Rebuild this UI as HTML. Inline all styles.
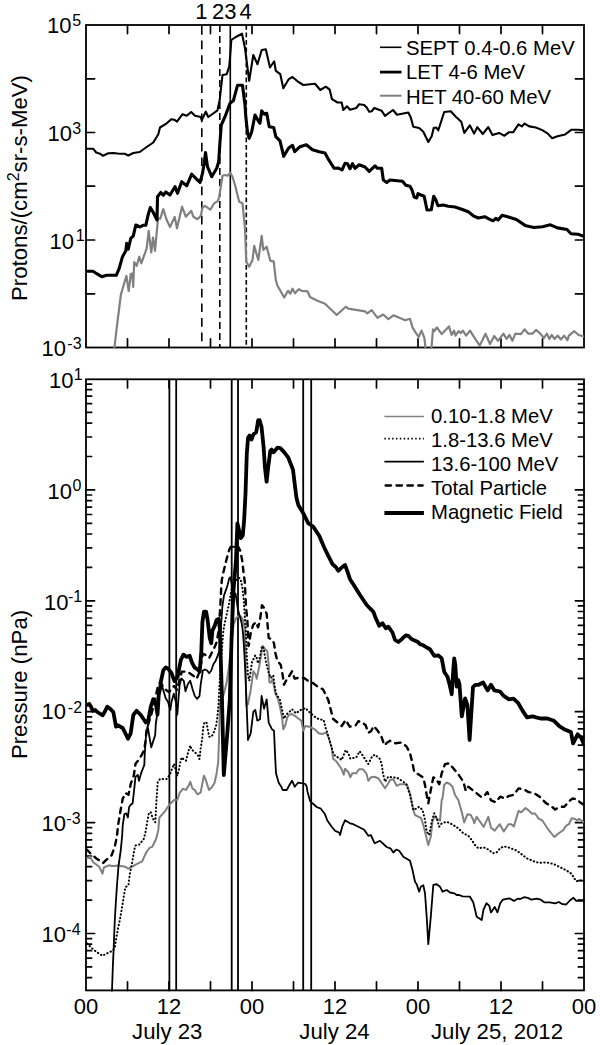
<!DOCTYPE html>
<html><head><meta charset="utf-8"><style>html,body{margin:0;padding:0;background:#fff;}svg{display:block}text{font-family:"Liberation Sans",sans-serif}</style></head>
<body><svg width="600" height="1045" viewBox="0 0 600 1045">
<rect x="86" y="25" width="498" height="322.5" fill="none" stroke="#000" stroke-width="1.8"/>
<rect x="86" y="379.3" width="498" height="611.0999999999999" fill="none" stroke="#000" stroke-width="1.8"/>
<path d="M127.5 25v8.6M127.5 347.5v-8.6M127.5 379.3v8.6M127.5 990.4v-8.6M169.0 25v8.6M169.0 347.5v-8.6M169.0 379.3v8.6M169.0 990.4v-8.6M210.5 25v8.6M210.5 347.5v-8.6M210.5 379.3v8.6M210.5 990.4v-8.6M252.0 25v8.6M252.0 347.5v-8.6M252.0 379.3v8.6M252.0 990.4v-8.6M293.5 25v8.6M293.5 347.5v-8.6M293.5 379.3v8.6M293.5 990.4v-8.6M335.0 25v8.6M335.0 347.5v-8.6M335.0 379.3v8.6M335.0 990.4v-8.6M376.5 25v8.6M376.5 347.5v-8.6M376.5 379.3v8.6M376.5 990.4v-8.6M418.0 25v8.6M418.0 347.5v-8.6M418.0 379.3v8.6M418.0 990.4v-8.6M459.5 25v8.6M459.5 347.5v-8.6M459.5 379.3v8.6M459.5 990.4v-8.6M501.0 25v8.6M501.0 347.5v-8.6M501.0 379.3v8.6M501.0 990.4v-8.6M542.5 25v8.6M542.5 347.5v-8.6M542.5 379.3v8.6M542.5 990.4v-8.6M86 78.8h8.6M584 78.8h-8.6M86 132.5h8.6M584 132.5h-8.6M86 186.2h8.6M584 186.2h-8.6M86 240.0h8.6M584 240.0h-8.6M86 293.8h8.6M584 293.8h-8.6M86 977.6h5.6M584 977.6h-5.6M86 966.9h5.6M584 966.9h-5.6M86 958.1h5.6M584 958.1h-5.6M86 950.7h5.6M584 950.7h-5.6M86 944.2h5.6M584 944.2h-5.6M86 938.6h5.6M584 938.6h-5.6M86 933.5h8.6M584 933.5h-8.6M86 900.1h5.6M584 900.1h-5.6M86 880.6h5.6M584 880.6h-5.6M86 866.7h5.6M584 866.7h-5.6M86 856.0h5.6M584 856.0h-5.6M86 847.2h5.6M584 847.2h-5.6M86 839.8h5.6M584 839.8h-5.6M86 833.3h5.6M584 833.3h-5.6M86 827.7h5.6M584 827.7h-5.6M86 822.6h8.6M584 822.6h-8.6M86 789.2h5.6M584 789.2h-5.6M86 769.7h5.6M584 769.7h-5.6M86 755.8h5.6M584 755.8h-5.6M86 745.1h5.6M584 745.1h-5.6M86 736.3h5.6M584 736.3h-5.6M86 728.9h5.6M584 728.9h-5.6M86 722.4h5.6M584 722.4h-5.6M86 716.8h5.6M584 716.8h-5.6M86 711.7h8.6M584 711.7h-8.6M86 678.3h5.6M584 678.3h-5.6M86 658.8h5.6M584 658.8h-5.6M86 644.9h5.6M584 644.9h-5.6M86 634.2h5.6M584 634.2h-5.6M86 625.4h5.6M584 625.4h-5.6M86 618.0h5.6M584 618.0h-5.6M86 611.5h5.6M584 611.5h-5.6M86 605.9h5.6M584 605.9h-5.6M86 600.8h8.6M584 600.8h-8.6M86 567.4h5.6M584 567.4h-5.6M86 547.9h5.6M584 547.9h-5.6M86 534.0h5.6M584 534.0h-5.6M86 523.3h5.6M584 523.3h-5.6M86 514.5h5.6M584 514.5h-5.6M86 507.1h5.6M584 507.1h-5.6M86 500.6h5.6M584 500.6h-5.6M86 495.0h5.6M584 495.0h-5.6M86 489.9h8.6M584 489.9h-8.6M86 456.5h5.6M584 456.5h-5.6M86 437.0h5.6M584 437.0h-5.6M86 423.1h5.6M584 423.1h-5.6M86 412.4h5.6M584 412.4h-5.6M86 403.6h5.6M584 403.6h-5.6M86 396.2h5.6M584 396.2h-5.6M86 389.7h5.6M584 389.7h-5.6M86 384.1h5.6M584 384.1h-5.6" stroke="#000" stroke-width="1.7" fill="none" stroke-linecap="round"/>
<text x="71.4" y="32.6" text-anchor="end" font-size="22" font-family="Liberation Sans, sans-serif">10</text><text x="72.3" y="26.4" font-size="16" font-family="Liberation Sans, sans-serif">5</text>
<text x="71.9" y="141.3" text-anchor="end" font-size="22" font-family="Liberation Sans, sans-serif">10</text><text x="72.3" y="133.9" font-size="16" font-family="Liberation Sans, sans-serif">3</text>
<text x="73.9" y="248.8" text-anchor="end" font-size="22" font-family="Liberation Sans, sans-serif">10</text><text x="75.8" y="241.4" font-size="16" font-family="Liberation Sans, sans-serif">1</text>
<text x="65.9" y="356.3" text-anchor="end" font-size="22" font-family="Liberation Sans, sans-serif">10</text><text x="67.3" y="348.9" font-size="16" font-family="Liberation Sans, sans-serif">-3</text>
<text x="73.4" y="387.8" text-anchor="end" font-size="22" font-family="Liberation Sans, sans-serif">10</text><text x="73.8" y="380.4" font-size="16" font-family="Liberation Sans, sans-serif">1</text>
<text x="72" y="498.7" text-anchor="end" font-size="22" font-family="Liberation Sans, sans-serif">10</text><text x="72.5" y="491.3" font-size="16" font-family="Liberation Sans, sans-serif">0</text>
<text x="68.4" y="609.6" text-anchor="end" font-size="22" font-family="Liberation Sans, sans-serif">10</text><text x="68" y="602.2" font-size="16" font-family="Liberation Sans, sans-serif">-1</text>
<text x="65.9" y="719.3" text-anchor="end" font-size="22" font-family="Liberation Sans, sans-serif">10</text><text x="67.8" y="713.1" font-size="16" font-family="Liberation Sans, sans-serif">-2</text>
<text x="65.9" y="831.4" text-anchor="end" font-size="22" font-family="Liberation Sans, sans-serif">10</text><text x="66.3" y="824.0" font-size="16" font-family="Liberation Sans, sans-serif">-3</text>
<text x="65.9" y="941.7" text-anchor="end" font-size="22" font-family="Liberation Sans, sans-serif">10</text><text x="66.3" y="934.9" font-size="16" font-family="Liberation Sans, sans-serif">-4</text>
<text x="86.0" y="1014.4" text-anchor="middle" font-size="22" font-family="Liberation Sans, sans-serif">00</text>
<text x="169.0" y="1014.4" text-anchor="middle" font-size="22" font-family="Liberation Sans, sans-serif">12</text>
<text x="252.0" y="1014.4" text-anchor="middle" font-size="22" font-family="Liberation Sans, sans-serif">00</text>
<text x="335.0" y="1014.4" text-anchor="middle" font-size="22" font-family="Liberation Sans, sans-serif">12</text>
<text x="418.0" y="1014.4" text-anchor="middle" font-size="22" font-family="Liberation Sans, sans-serif">00</text>
<text x="501.0" y="1014.4" text-anchor="middle" font-size="22" font-family="Liberation Sans, sans-serif">12</text>
<text x="584.0" y="1014.4" text-anchor="middle" font-size="22" font-family="Liberation Sans, sans-serif">00</text>
<text x="167.2" y="1039.4" text-anchor="middle" font-size="22.2" font-family="Liberation Sans, sans-serif">July 23</text>
<text x="334.5" y="1039.4" text-anchor="middle" font-size="22.2" font-family="Liberation Sans, sans-serif">July 24</text>
<text x="497.0" y="1039.4" text-anchor="middle" font-size="22.2" font-family="Liberation Sans, sans-serif">July 25, 2012</text>
<text transform="translate(27,188) rotate(-90)" text-anchor="middle" font-size="22.2" font-family="Liberation Sans, sans-serif">Protons/(cm<tspan font-size="16" dy="-8">2</tspan><tspan dy="8">sr-s-MeV)</tspan></text>
<text transform="translate(27,684.5) rotate(-90)" text-anchor="middle" font-size="22.2" font-family="Liberation Sans, sans-serif">Pressure (nPa)</text>
<text x="201.3" y="19.3" text-anchor="middle" font-size="22" font-family="Liberation Sans, sans-serif">1</text>
<text x="218" y="19.3" text-anchor="middle" font-size="22" font-family="Liberation Sans, sans-serif">2</text>
<text x="230.3" y="19.3" text-anchor="middle" font-size="22" font-family="Liberation Sans, sans-serif">3</text>
<text x="245.5" y="19.3" text-anchor="middle" font-size="22" font-family="Liberation Sans, sans-serif">4</text>
<path d="M380 47.3H401.5" stroke="#000" stroke-width="1.6"/>
<text x="406" y="54.8" font-size="20.3" font-family="Liberation Sans, sans-serif">SEPT 0.4-0.6 MeV</text>
<path d="M380 72.1H401.5" stroke="#000" stroke-width="2.8"/>
<text x="406" y="79.3" font-size="20.3" font-family="Liberation Sans, sans-serif">LET 4-6 MeV</text>
<path d="M380 95.7H401.5" stroke="#808080" stroke-width="2.0"/>
<text x="406" y="103.7" font-size="20.3" font-family="Liberation Sans, sans-serif">HET 40-60 MeV</text>
<path d="M384.4 416.5H423.9" stroke="#808080" stroke-width="1.7"/>
<text x="431" y="423" font-size="20.3" font-family="Liberation Sans, sans-serif">0.10-1.8 MeV</text>
<path d="M384.4 438.7H423.9" stroke="#000" stroke-width="1.7" stroke-dasharray="1.5 2.35"/>
<text x="431" y="447" font-size="20.3" font-family="Liberation Sans, sans-serif">1.8-13.6 MeV</text>
<path d="M384.4 461.6H423.9" stroke="#000" stroke-width="1.9"/>
<text x="431" y="471" font-size="20.3" font-family="Liberation Sans, sans-serif">13.6-100 MeV</text>
<path d="M385.6 485.5H422.7" stroke="#000" stroke-width="2.3" stroke-dasharray="5.5 5.4" stroke-linecap="round"/>
<text x="431" y="494.6" font-size="20.3" font-family="Liberation Sans, sans-serif">Total Particle</text>
<path d="M384.4 513H423.9" stroke="#000" stroke-width="3.9"/>
<text x="431" y="518.5" font-size="20.3" font-family="Liberation Sans, sans-serif">Magnetic Field</text>
<path d="M201.8 25V347.5" stroke="#000" stroke-width="1.6" stroke-dasharray="8.7 5.9" stroke-dashoffset="-1"/>
<path d="M219.8 25V347.5" stroke="#000" stroke-width="1.6" stroke-dasharray="7 4"/>
<path d="M230.3 25V347.5" stroke="#000" stroke-width="1.6"/>
<path d="M246.3 25V347.5" stroke="#000" stroke-width="1.6" stroke-dasharray="4.8 2.7"/>
<path d="M169.4 379.3V990.4" stroke="#000" stroke-width="1.8"/>
<path d="M176.2 379.3V990.4" stroke="#000" stroke-width="1.8"/>
<path d="M231.7 379.3V990.4" stroke="#000" stroke-width="1.8"/>
<path d="M238 379.3V990.4" stroke="#000" stroke-width="1.8"/>
<path d="M303.2 379.3V990.4" stroke="#000" stroke-width="1.8"/>
<path d="M311.2 379.3V990.4" stroke="#000" stroke-width="1.8"/>
<defs><clipPath id="ct"><rect x="86" y="25" width="498" height="323.7"/></clipPath><clipPath id="cb"><rect x="86" y="379.3" width="498" height="612.3"/></clipPath></defs>
<path d="M113.9,352.0 117.4,322.5 120.9,294.5 123.3,286.3 126.4,275.8 128.7,291.0 130.8,274.0 132.2,273.5 133.2,286.9 134.2,262.0 136.7,265.8 139.2,256.7 141.3,263.3 146.7,248.3 148.7,230.8 151.3,252.5 153.0,237.5 155.0,250.8 158.0,218.3 160.3,218.7 163.3,209.2 166.7,220.0 170.0,227.0 174.7,217.0 177.0,228.3 182.0,206.7 185.8,216.7 191.3,210.8 193.3,216.7 197.5,219.2 200.8,215.8 202.5,207.5 205.0,205.8 210.3,209.7 214.2,203.3 218.0,200.8 219.2,196.7 222.5,175.8 225.0,175.0 227.5,175.8 230.3,172.8 232.5,176.7 235.0,185.0 237.5,195.0 239.2,201.7 242.5,203.3 245.0,228.3 246.3,261.7 249.2,266.7 252.5,260.0 254.2,245.8 258.3,260.0 261.7,235.8 263.3,250.0 266.7,246.7 270.3,260.8 273.7,261.3 275.8,280.0 277.5,285.8 284.2,297.5 288.0,290.8 290.3,293.7 292.5,288.7 295.0,293.3 298.7,289.2 301.7,290.8 307.5,291.3 310.0,297.0 317.5,300.8 325.0,303.7 336.7,315.0 345.8,306.7 348.3,308.7 365.0,311.3 367.3,313.4 371.7,310.1 377.5,317.8 383.2,314.5 388.4,319.1 393.4,315.3 405.3,320.3 410.0,318.8 412.5,327.4 415.2,331.8 418.7,337.0 421.5,330.6 424.4,337.9 426.3,356.0 430.8,356.0 433.0,329.3 434.4,331.2 436.9,327.4 441.7,334.1 449.0,326.4 451.6,335.0 454.1,330.6 455.5,335.6 458.5,331.2 460.8,333.1 462.8,330.6 466.2,335.6 470.0,330.6 475.2,338.9 479.8,345.6 485.5,333.7 490.0,344.1 494.2,336.0 498.0,340.8 503.4,333.7 506.6,338.9 509.5,335.0 512.4,340.8 515.3,333.7 521.0,334.1 524.5,329.3 528.3,333.7 532.5,333.7 536.0,329.9 539.2,332.6 544.0,337.9 546.9,333.7 549.4,338.9 551.7,335.0 554.5,338.9 557.8,335.6 560.9,339.5 564.1,335.6 567.4,340.2 568.9,335.6 574.3,331.2 578.5,335.0 584.3,336.4" stroke="#808080" stroke-width="2.2" fill="none" stroke-linejoin="round" clip-path="url(#ct)"/>
<path d="M86.0,148.8 93.3,148.8 96.2,152.5 100.0,153.7 103.0,155.8 108.3,153.3 113.3,153.0 119.2,153.8 124.7,153.8 128.3,155.5 133.3,153.0 139.7,152.0 146.7,147.0 153.3,142.5 158.3,134.2 160.0,127.5 166.7,123.3 171.3,119.2 174.2,119.7 177.0,121.7 182.5,114.2 186.7,115.8 191.2,112.0 195.0,115.8 200.8,117.0 201.7,120.3 205.8,111.7 208.3,117.0 217.5,110.3 219.7,100.0 222.5,75.0 226.7,74.2 229.2,66.7 230.0,58.3 231.3,40.0 235.8,37.0 242.0,33.7 245.0,48.3 249.2,80.8 253.3,55.0 257.5,64.2 261.7,50.0 265.8,49.2 270.0,67.5 271.7,65.0 274.2,61.3 275.8,70.8 280.3,74.2 283.3,88.3 288.7,79.2 292.5,77.0 297.5,81.3 303.3,85.0 315.0,83.7 320.3,90.0 325.8,86.7 329.7,89.7 332.0,99.2 337.5,102.5 341.7,102.5 343.3,110.0 347.0,106.3 350.0,109.7 356.3,108.0 359.2,104.2 364.2,105.0 366.7,107.5 369.2,111.7 371.7,111.3 374.2,108.0 381.7,110.8 385.0,115.8 393.0,110.0 397.0,114.7 408.3,112.5 410.8,117.5 413.3,126.7 419.2,128.0 423.3,131.7 428.3,142.0 431.7,136.3 433.7,128.0 436.3,127.5 438.3,130.3 444.2,112.0 450.8,111.3 455.8,116.7 461.3,121.7 464.3,132.9 469.8,125.3 474.1,133.6 477.3,127.1 482.8,134.0 488.2,127.1 492.5,135.1 499.0,132.9 504.4,135.7 508.8,132.3 513.1,132.3 518.5,124.3 521.8,126.4 524.6,123.6 529.3,126.4 535.8,127.5 542.3,130.1 547.8,133.6 552.1,138.3 557.5,136.2 565.1,134.4 571.6,129.7 578.1,129.7 584.0,130.3" stroke="#000" stroke-width="2.1" fill="none" stroke-linejoin="round" clip-path="url(#ct)"/>
<path d="M86.7,271.3 93.0,271.3 96.7,273.7 101.7,276.7 106.7,275.3 111.7,275.3 116.3,275.3 119.2,268.3 122.5,256.7 125.8,250.8 126.7,243.3 128.3,249.2 129.2,245.0 130.8,238.3 133.3,235.8 135.8,225.0 140.0,227.0 143.0,225.3 145.8,225.3 148.3,214.2 150.3,207.5 153.3,212.5 157.0,220.0 157.5,196.7 160.8,192.5 163.3,195.3 165.8,192.0 170.0,195.0 175.0,186.7 177.5,193.3 181.7,181.7 186.7,185.8 191.7,174.2 195.8,178.3 200.0,182.5 202.5,173.3 204.2,163.3 205.5,152.5 207.5,166.7 211.7,176.7 216.7,168.3 218.7,161.7 220.0,141.7 221.3,125.0 225.0,116.7 230.0,103.3 233.3,100.8 237.5,85.3 242.5,85.3 245.0,105.0 245.8,116.7 247.5,132.5 249.2,138.3 251.7,131.7 255.0,115.0 258.3,120.8 260.0,123.3 261.7,110.8 264.2,114.2 266.7,113.3 269.2,126.7 273.7,127.5 275.8,136.7 280.0,140.8 283.7,156.3 288.7,148.0 292.5,145.3 294.7,151.7 300.0,146.7 306.3,144.7 312.5,149.7 319.2,151.7 325.0,153.0 328.3,159.2 334.2,168.3 338.3,168.0 342.0,170.0 345.0,163.3 347.5,163.7 350.0,168.7 352.5,163.7 355.0,168.3 359.2,164.7 365.0,167.0 369.2,171.3 375.0,165.8 377.5,168.3 381.7,168.3 383.3,180.0 386.7,182.5 390.0,180.0 402.5,181.3 405.8,185.3 410.0,186.3 412.0,190.0 414.2,197.0 416.7,198.0 418.0,193.7 420.8,195.0 424.2,196.3 427.0,210.0 431.3,209.7 433.7,196.3 435.8,199.7 438.0,205.8 443.3,205.0 448.3,206.3 455.0,207.0 461.7,209.2 468.3,211.7 473.3,215.8 478.3,218.0 484.7,216.7 488.3,218.7 493.0,220.8 495.8,218.3 498.2,220.0 502.1,215.3 507.7,216.8 516.4,219.5 525.1,225.4 533.8,227.5 542.5,226.7 550.4,224.8 557.5,227.9 567.0,229.5 571.0,233.8 578.1,234.3 584.5,236.5" stroke="#000" stroke-width="3.1" fill="none" stroke-linejoin="round" clip-path="url(#ct)"/>
<path d="M86.3,858.4 90.1,856.8 93.2,862.2 99.3,866.8 102.4,873.7 103.9,867.5 109.3,865.2 111.6,866.0 114.7,866.0 117.7,865.6 125.4,866.8 128.4,868.6 133.0,866.0 137.6,863.7 142.2,861.4 143.8,857.6 146.8,851.5 149.9,847.6 152.2,846.9 154.5,842.3 156.0,839.2 158.3,830.3 159.4,817.5 164.7,811.7 169.3,804.7 174.0,800.0 177.3,800.0 179.5,793.2 182.8,788.8 186.0,789.9 188.7,785.6 190.3,781.8 192.5,788.8 194.7,789.9 197.4,794.3 200.6,792.6 203.9,775.8 205.5,779.1 207.7,786.0 209.0,790.0 212.0,787.0 214.5,783.0 216.5,774.0 218.2,762.0 219.0,740.0 219.6,715.0 220.2,700.0 221.5,700.0 223.7,694.5 226.5,683.1 228.7,668.7 231.0,648.0 233.5,625.0 236.1,618.2 238.6,615.7 241.0,616.4 242.9,619.5 244.8,628.2 245.5,660.0 246.3,706.0 248.0,704.0 250.7,690.0 253.3,671.3 255.3,674.0 256.7,678.7 259.3,666.0 261.3,654.0 262.7,646.0 264.7,648.7 267.3,651.3 268.7,664.7 269.3,682.0 270.7,682.7 272.7,679.3 275.3,693.3 278.0,699.3 280.0,706.7 282.0,717.3 283.3,729.3 285.3,725.3 287.3,717.3 289.3,714.7 292.0,714.0 296.0,716.7 301.3,720.7 303.3,730.7 305.3,726.0 309.3,726.7 314.7,729.3 318.7,733.3 321.7,734.0 326.3,732.7 329.0,738.7 331.7,748.0 333.0,758.7 336.3,761.3 339.0,765.3 341.7,769.3 343.7,774.7 345.0,768.7 348.3,772.0 350.3,777.3 352.3,773.3 356.3,773.3 359.0,769.3 363.0,769.3 366.3,773.3 368.3,780.8 371.0,777.3 374.2,776.7 378.3,778.3 381.7,783.3 385.0,788.3 388.3,783.3 390.0,780.0 393.3,779.2 396.7,785.8 400.0,784.2 406.7,784.2 410.0,793.3 413.3,810.0 415.0,815.0 418.3,816.7 421.0,818.0 423.3,825.0 425.8,835.0 428.3,845.0 430.8,836.7 432.5,821.7 434.2,816.7 436.7,818.3 440.0,820.8 441.7,800.0 442.5,798.3 444.2,785.0 446.7,782.5 450.0,784.2 452.5,786.7 455.0,795.0 458.3,800.0 461.7,811.7 464.2,822.5 467.5,814.2 470.8,815.0 473.3,820.0 474.2,823.3 476.7,816.7 480.0,821.7 483.7,826.9 488.3,816.8 491.0,827.8 494.7,830.6 499.8,824.2 503.8,831.5 508.4,824.2 511.2,824.2 513.9,826.4 518.5,811.0 521.3,812.3 525.5,808.0 528.6,810.4 531.7,813.5 535.0,813.5 538.7,818.7 542.3,820.5 547.8,828.8 554.3,837.0 558.8,833.3 563.4,830.0 566.2,825.6 568.9,824.2 571.7,818.3 574.4,818.7 577.2,820.5 579.0,818.7 584.0,822.5" stroke="#808080" stroke-width="2.0" fill="none" stroke-linejoin="round" clip-path="url(#cb)"/>
<path d="M87.1,943.4 91.7,948.0 96.3,951.8 102.4,955.7 107.0,953.4 112.0,951.0 114.6,948.4 116.4,937.6 118.3,926.9 119.8,920.2 121.8,908.7 124.7,890.8 125.4,887.2 128.5,885.3 128.8,881.5 129.8,874.2 130.5,870.5 132.0,863.5 133.2,856.0 134.5,849.0 135.5,845.5 139.2,844.6 143.7,839.1 145.4,832.7 147.2,822.2 148.9,812.8 150.7,812.3 153.0,818.7 155.3,822.2 156.5,800.0 157.7,782.5 160.0,779.0 166.5,779.1 169.8,774.8 171.9,769.3 174.1,763.9 177.3,775.8 179.0,769.3 180.6,760.7 181.7,757.4 183.3,759.0 186.0,760.7 188.2,752.0 190.3,745.5 191.4,749.3 194.7,752.0 197.9,755.3 199.5,759.0 200.6,748.8 202.3,737.9 203.3,727.1 204.4,722.2 206.6,722.8 207.7,729.3 209.3,736.8 211.5,736.8 214.2,731.4 216.3,724.9 217.4,716.3 218.5,705.4 219.2,690.0 220.8,664.2 222.4,643.2 223.4,630.5 224.5,624.2 228.6,605.8 231.5,590.0 236.0,580.0 239.5,578.0 241.0,581.0 242.3,587.1 243.5,597.1 244.2,607.0 244.8,617.0 246.0,631.9 246.7,654.0 248.0,675.3 249.3,680.7 252.0,662.0 254.0,658.0 255.3,655.3 256.7,658.0 258.0,663.3 260.0,656.7 262.0,646.0 263.5,648.0 266.0,662.0 268.5,672.0 270.7,678.0 273.3,675.3 274.7,686.0 276.0,693.3 280.0,700.0 282.0,709.3 284.0,718.7 286.0,714.7 288.7,712.7 292.0,709.3 296.0,713.3 300.7,710.0 305.3,708.0 309.3,712.0 314.7,716.7 319.0,719.3 323.7,720.0 325.7,728.0 328.3,736.0 331.0,745.3 333.7,754.7 337.7,757.3 341.7,760.0 345.7,750.0 348.3,753.3 350.3,758.7 356.3,757.3 359.7,751.3 363.0,756.0 368.3,764.0 372.3,756.0 375.0,754.7 379.7,758.7 381.7,764.0 383.0,773.3 385.0,781.7 388.3,776.7 392.3,777.3 396.7,777.5 403.3,781.7 406.7,785.0 410.0,795.0 413.3,810.0 416.7,808.3 419.2,806.7 422.5,810.0 425.0,820.0 426.7,831.7 429.2,835.0 431.7,821.7 434.2,813.3 436.7,818.3 439.2,826.7 441.7,823.3 446.7,821.7 453.3,825.0 458.3,828.3 463.3,833.3 468.3,835.8 471.7,840.0 475.0,845.0 478.3,848.3 483.3,847.5 485.5,848.0 489.2,850.1 492.8,853.2 496.5,852.5 500.2,848.3 503.8,846.4 509.3,847.7 516.7,850.6 522.2,854.7 526.8,858.3 533.2,861.1 538.7,862.9 546.0,862.4 549.7,862.9 555.2,864.8 560.7,867.5 566.2,870.3 571.7,873.9 574.4,878.5 576.3,881.3 579.9,880.3 584.0,881.3" stroke="#000" stroke-width="2.0" fill="none" stroke-linejoin="round" stroke-dasharray="0.4 3.2" stroke-linecap="round" clip-path="url(#cb)"/>
<path d="M111.8,996.0 112.9,965.0 113.6,950.1 114.2,935.0 114.8,920.0 116.0,900.0 117.0,885.0 118.5,866.0 120.8,850.0 122.2,835.0 122.7,825.7 124.4,814.0 126.2,813.4 127.9,817.5 129.1,807.0 130.8,804.7 132.6,803.5 134.3,788.3 135.5,776.7 137.8,774.9 139.0,780.8 141.3,772.6 144.3,765.0 144.8,753.3 146.0,735.8 147.6,726.0 151.2,747.4 155.2,735.0 155.8,724.0 157.5,712.3 159.3,692.5 161.6,684.3 163.3,690.2 165.7,698.3 168.0,701.8 170.3,710.0 171.5,701.8 173.8,693.7 176.2,703.0 177.3,714.7 178.5,698.3 179.7,684.3 181.4,678.5 183.8,680.8 185.5,691.3 187.8,684.3 190.2,680.8 192.5,689.0 194.8,696.0 197.2,698.9 199.5,696.0 200.7,684.3 202.9,670.5 205.0,669.5 207.1,670.5 209.2,673.2 211.3,670.5 213.4,664.2 215.5,661.1 217.6,655.8 219.2,651.6 222.4,606.3 223.9,595.8 225.0,592.6 227.4,585.9 229.2,578.4 230.5,577.2 233.6,594.6 235.5,593.4 236.7,600.8 237.9,609.5 240.4,618.2 241.7,623.2 242.9,631.9 243.8,644.0 245.2,668.7 246.6,704.6 248.0,740.0 250.7,733.3 253.3,712.0 255.3,710.0 257.3,720.7 260.0,719.3 261.6,696.0 264.0,708.7 266.7,699.3 268.7,722.7 272.0,729.3 274.0,730.7 275.3,760.0 276.0,773.3 278.7,782.7 281.3,786.7 282.7,790.0 286.7,790.0 289.3,785.3 292.0,780.7 294.7,786.7 298.0,782.7 302.7,783.3 305.3,784.0 306.7,786.7 307.5,791.7 310.0,800.8 312.5,803.3 316.7,807.0 320.8,808.7 324.7,813.7 327.5,820.8 331.7,826.7 335.0,830.8 339.2,832.5 340.0,835.0 342.5,825.8 345.0,820.3 350.0,823.3 353.3,824.2 358.3,826.7 364.2,829.7 368.3,835.8 370.8,835.0 374.7,843.3 380.0,840.8 386.7,847.0 390.8,848.7 393.3,852.5 395.8,850.0 396.7,849.7 399.2,850.8 403.3,856.7 406.7,858.7 410.0,860.8 412.5,870.0 415.0,881.7 416.7,884.2 419.2,891.7 420.8,886.7 423.3,885.3 425.0,893.3 426.7,916.7 428.3,944.2 430.8,916.7 433.3,885.0 436.7,884.2 440.0,886.7 442.5,891.7 446.7,890.0 450.0,892.5 454.2,893.3 456.7,895.0 459.2,895.0 462.5,896.3 470.0,896.7 473.3,902.5 476.7,916.7 481.7,920.0 483.5,909.7 486.4,903.3 489.2,905.6 491.0,912.4 494.7,906.9 497.4,912.4 500.2,903.3 502.9,899.6 509.3,898.3 513.9,900.9 517.6,898.7 520.3,899.0 524.0,897.2 527.7,897.8 531.3,899.6 536.8,898.7 540.5,899.6 544.2,902.3 549.7,902.3 555.2,903.3 558.8,902.0 562.5,904.2 566.2,904.5 569.8,900.5 573.5,897.8 576.3,900.9 579.9,900.5 584.0,900.9" stroke="#000" stroke-width="1.8" fill="none" stroke-linejoin="round" clip-path="url(#cb)"/>
<path d="M86.5,849.3 90.9,853.8 96.3,858.4 103.2,863.0 106.2,859.9 111.6,855.3 114.7,846.9 117.0,836.1 118.0,825.7 120.3,811.7 122.7,798.8 125.6,793.0 128.5,794.8 130.8,783.7 133.8,775.5 135.5,763.8 137.8,760.9 141.3,755.7 144.3,749.8 145.4,741.7 146.6,730.0 149.0,722.0 152.0,712.0 155.0,700.0 157.5,688.0 160.0,682.0 163.3,686.7 166.0,690.0 169.0,692.0 171.5,689.0 174.0,686.0 177.0,690.0 180.0,678.0 181.8,671.6 187.1,671.6 193.4,675.8 196.6,678.9 199.5,672.0 202.9,653.7 207.1,655.8 209.2,657.9 212.4,651.6 215.0,646.3 216.6,642.1 217.6,636.8 218.7,630.5 219.2,624.2 219.7,615.8 220.3,606.3 220.8,596.8 221.3,586.3 221.8,580.0 223.7,571.0 226.1,561.0 229.2,549.8 230.6,547.0 238.4,547.0 240.4,551.1 242.3,561.0 243.5,572.2 244.8,582.2 245.4,594.6 246.0,607.0 247.3,619.5 247.9,631.9 248.5,646.0 249.3,643.3 250.7,632.7 253.3,624.7 256.0,622.0 258.0,627.3 260.0,620.7 261.3,610.0 262.0,605.3 264.7,608.7 266.7,614.0 268.0,630.0 268.7,638.0 272.0,639.3 274.0,643.3 275.3,652.7 277.3,660.7 280.7,664.7 282.7,675.3 284.0,684.7 286.0,680.7 288.0,678.0 292.0,671.3 294.7,678.7 298.7,677.7 304.0,678.0 308.0,680.7 313.3,683.3 317.7,686.7 323.0,689.3 325.7,694.7 328.3,700.0 331.0,710.7 333.0,718.7 337.7,722.7 341.7,726.0 345.7,720.0 349.7,726.7 355.7,725.3 358.3,721.3 361.7,722.0 365.7,725.3 368.3,732.7 371.0,731.3 373.7,726.0 377.7,730.7 381.7,737.3 384.3,745.3 387.0,742.7 390.0,740.8 395.0,743.3 401.7,742.5 406.7,746.7 410.0,753.3 412.5,763.3 414.2,771.7 418.3,774.2 423.3,777.5 425.0,785.0 426.7,795.0 428.3,803.3 430.8,790.0 433.3,777.5 435.8,778.3 439.2,784.2 441.7,773.3 445.0,764.2 449.2,763.3 453.3,768.3 458.3,774.2 463.3,781.7 465.8,790.8 468.3,786.7 472.5,790.0 476.7,793.3 480.8,796.7 483.7,796.7 487.3,792.1 491.0,800.3 495.6,802.2 500.2,796.7 504.8,798.5 509.3,795.8 513.9,794.8 518.5,788.4 524.0,789.3 528.6,792.1 534.1,793.0 539.6,796.7 546.0,803.1 550.6,805.8 555.2,809.5 559.8,806.8 564.3,806.8 568.9,801.3 572.6,798.5 577.2,799.4 579.9,802.2 584.0,805.0" stroke="#000" stroke-width="2.4" fill="none" stroke-linejoin="round" stroke-dasharray="5.5 5.4" stroke-linecap="round" clip-path="url(#cb)"/>
<path d="M86.0,705.3 89.3,704.0 91.3,707.3 92.7,710.7 95.3,710.0 97.3,712.0 102.7,715.3 105.3,710.7 107.3,706.7 110.0,708.7 113.3,712.0 116.0,726.7 118.0,725.3 122.7,728.0 128.0,738.7 130.7,733.3 133.3,715.0 136.7,710.8 140.8,715.0 145.8,722.5 148.3,720.0 150.8,706.7 153.3,699.2 155.8,703.3 157.5,714.7 158.1,705.3 158.7,694.8 160.4,686.7 161.0,680.8 163.3,670.3 165.7,667.4 168.0,668.6 171.3,672.6 174.5,681.1 177.6,676.8 180.8,660.0 183.4,654.7 186.6,656.8 189.7,655.8 191.8,662.1 194.5,667.4 197.6,669.5 199.7,671.6 201.3,651.7 202.4,622.1 204.0,611.6 206.1,611.6 207.6,620.0 209.7,637.9 211.3,643.2 212.4,630.5 214.5,626.3 216.6,620.0 218.7,618.9 219.7,627.4 220.8,660.0 222.0,700.0 223.8,775.0 227.2,734.5 229.8,700.0 231.5,640.0 233.5,590.0 236.0,560.0 237.4,523.3 240.8,538.0 242.8,535.3 244.1,520.6 245.5,493.8 246.8,453.6 248.1,437.5 249.5,435.5 251.5,439.5 253.5,434.2 256.2,432.2 258.2,420.1 259.5,420.1 261.5,426.8 263.6,446.9 264.9,467.0 266.6,481.7 268.2,467.0 270.3,450.9 271.6,449.6 273.6,452.3 277.6,447.6 280.3,448.2 284.3,452.3 288.3,457.6 293.0,469.7 295.2,488.0 296.5,498.0 298.3,505.0 303.3,513.3 308.3,523.3 313.3,526.7 319.2,535.8 324.2,547.5 328.3,555.8 332.5,564.2 335.8,567.0 338.3,570.8 341.7,567.5 345.0,565.0 347.5,571.7 350.0,579.2 353.3,584.2 360.0,595.0 366.7,605.0 370.0,608.3 373.3,611.7 375.8,618.3 379.2,625.8 382.5,623.3 385.8,628.3 388.3,626.7 392.5,632.5 395.0,640.0 398.3,642.0 401.7,639.2 405.8,635.3 408.3,635.8 411.7,639.2 417.5,641.7 420.0,644.2 423.3,645.3 426.7,647.5 430.0,649.2 434.2,655.8 438.3,655.3 441.7,658.3 444.2,671.7 445.8,674.2 447.5,676.7 449.7,685.0 451.7,694.2 453.3,670.0 454.2,658.3 455.3,665.0 456.7,686.7 458.3,680.0 459.5,684.8 461.8,716.3 465.1,698.3 467.4,705.0 469.6,740.0 473.0,687.0 475.3,684.8 478.6,684.8 483.1,682.5 487.6,690.4 491.0,684.8 494.4,690.4 500.0,691.5 503.4,695.6 509.0,699.4 513.5,698.7 518.0,702.8 522.5,710.6 527.0,717.4 532.6,716.3 536.0,717.4 540.5,718.5 547.3,718.5 554.0,720.8 559.6,726.4 565.3,729.8 570.9,732.0 573.1,743.3 577.6,734.3 581.0,737.6 584.0,744.4" stroke="#000" stroke-width="3.8" fill="none" stroke-linejoin="round" clip-path="url(#cb)"/>
<path d="M230.6,546.8 238.4,546.8" stroke="#000" stroke-width="1.8" fill="none" stroke-linejoin="round" clip-path="url(#cb)"/>
</svg></body></html>
